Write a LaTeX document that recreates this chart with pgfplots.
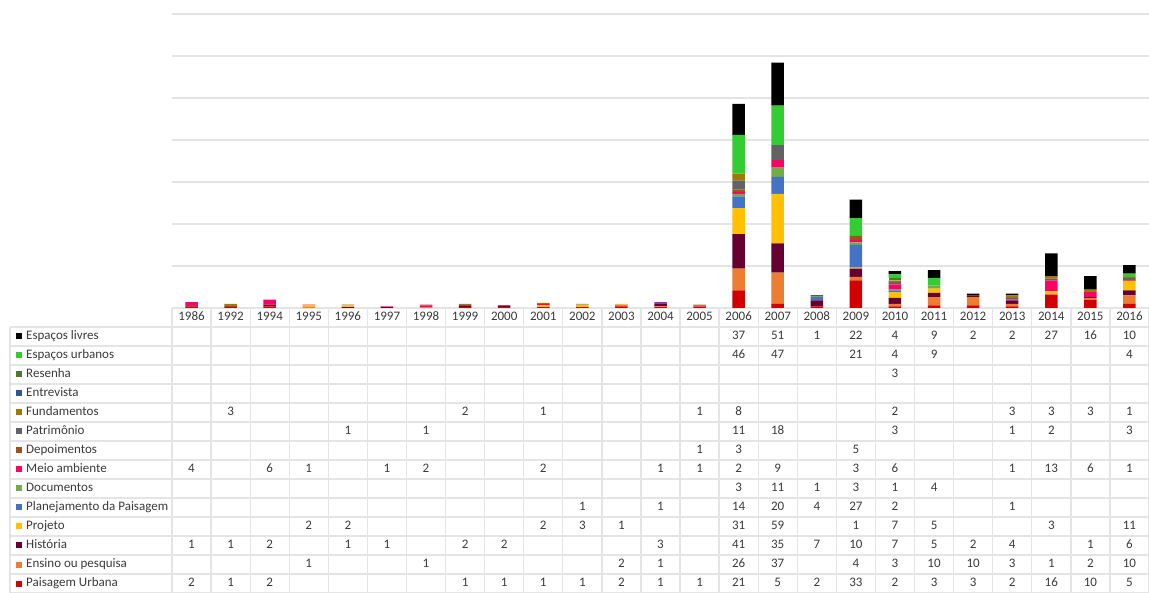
\documentclass[border=0pt]{standalone}
\usepackage{pgfplots}
\pgfplotsset{compat=1.18}
\usepackage{pgfplotstable}
\usepackage{fontspec}
\setmainfont{Carlito}

\definecolor{cEL}{HTML}{000000}
\definecolor{cEU}{HTML}{33CC33}
\definecolor{cRe}{HTML}{4E7A2E}
\definecolor{cEn}{HTML}{2F5597}
\definecolor{cFu}{HTML}{A07A00}
\definecolor{cPa}{HTML}{636363}
\definecolor{cDe}{HTML}{A0521D}
\definecolor{cMA}{HTML}{FF0066}
\definecolor{cDo}{HTML}{70AD47}
\definecolor{cPP}{HTML}{4472C4}
\definecolor{cPr}{HTML}{FFC000}
\definecolor{cHi}{HTML}{660033}
\definecolor{cEP}{HTML}{ED7D31}
\definecolor{cPU}{HTML}{D00000}
\definecolor{gridgray}{HTML}{E4E4E4}
\definecolor{txt}{HTML}{3A3A3A}
\newcommand\tablefont{\fontsize{13}{15}\selectfont}

% number of articles per year and theme (bottom series first)
\pgfplotstableread{
x  year PU EP Hi Pr PP Do MA De Pa Fu En Re EU EL
0  1986  2  0  1  0  0  0  4  0  0  0  0  0  0  0
1  1992  1  0  1  0  0  0  0  0  0  3  0  0  0  0
2  1994  2  0  2  0  0  0  6  0  0  0  0  0  0  0
3  1995  0  1  0  2  0  0  1  0  0  0  0  0  0  0
4  1996  0  0  1  2  0  0  0  0  1  0  0  0  0  0
5  1997  0  0  1  0  0  0  1  0  0  0  0  0  0  0
6  1998  0  1  0  0  0  0  2  0  1  0  0  0  0  0
7  1999  1  0  2  0  0  0  0  0  0  2  0  0  0  0
8  2000  1  0  2  0  0  0  0  0  0  0  0  0  0  0
9  2001  1  0  0  2  0  0  2  0  0  1  0  0  0  0
10 2002  1  0  0  3  1  0  0  0  0  0  0  0  0  0
11 2003  2  2  0  1  0  0  0  0  0  0  0  0  0  0
12 2004  1  1  3  0  1  0  1  0  0  0  0  0  0  0
13 2005  1  0  0  0  0  0  1  1  0  1  0  0  0  0
14 2006 21 26 41 31 14  3  2  3 11  8  0  0 46 37
15 2007  5 37 35 59 20 11  9  0 18  0  0  0 47 51
16 2008  2  0  7  0  4  1  0  0  0  0  0  0  0  1
17 2009 33  4 10  1 27  3  3  5  0  0  0  0 21 22
18 2010  2  3  7  7  2  1  6  0  3  2  0  3  4  4
19 2011  3 10  5  5  0  4  0  0  0  0  0  0  9  9
20 2012  3 10  2  0  0  0  0  0  0  0  0  0  0  2
21 2013  2  3  4  0  1  0  1  0  1  3  0  0  0  2
22 2014 16  1  0  3  0  0 13  0  2  3  0  0  0 27
23 2015 10  2  1  0  0  0  6  0  0  3  0  0  0 16
24 2016  5 10  6 11  0  0  1  0  3  1  0  0  4 10
}\data

\begin{document}
\begin{tikzpicture}
\useasboundingbox (0,0) rectangle (1149pt,592pt);

% table lines
\begin{scope}[gridgray, line width=1.3pt]
\draw (172pt,284pt) -- (1149pt,284pt);
\foreach \k in {1,...,15} \draw (10pt,{284pt-19pt*\k}) -- (1149pt,{284pt-19pt*\k});
\draw (10pt,265pt) -- (10pt,-1pt);
\foreach \j in {0,...,25} \draw ({172pt+39.08pt*\j},284pt) -- ({172pt+39.08pt*\j},-1pt);
\end{scope}

% chart
\begin{axis}[
    at={(172pt,284pt)}, anchor=south west,
    scale only axis, width=977pt, height=294pt,
    xmin=-0.5, xmax=24.5, ymin=0, ymax=350,
    ybar stacked, bar width=12.5pt,
    axis line style={draw=none},
    tick style={draw=none},
    xtick=\empty,
    ytick={50,100,...,350}, yticklabels={},
    ymajorgrids,
    grid style={gridgray, line width=1.6pt},
]
\addplot[fill=cPU, draw=none] table[x=x,y=PU]{\data};
\addplot[fill=cEP, draw=none] table[x=x,y=EP]{\data};
\addplot[fill=cHi, draw=none] table[x=x,y=Hi]{\data};
\addplot[fill=cPr, draw=none] table[x=x,y=Pr]{\data};
\addplot[fill=cPP, draw=none] table[x=x,y=PP]{\data};
\addplot[fill=cDo, draw=none] table[x=x,y=Do]{\data};
\addplot[fill=cMA, draw=none] table[x=x,y=MA]{\data};
\addplot[fill=cDe, draw=none] table[x=x,y=De]{\data};
\addplot[fill=cPa, draw=none] table[x=x,y=Pa]{\data};
\addplot[fill=cFu, draw=none] table[x=x,y=Fu]{\data};
\addplot[fill=cEn, draw=none] table[x=x,y=En]{\data};
\addplot[fill=cRe, draw=none] table[x=x,y=Re]{\data};
\addplot[fill=cEU, draw=none] table[x=x,y=EU]{\data};
\addplot[fill=cEL, draw=none] table[x=x,y=EL]{\data};
\end{axis}

% data table
\begin{axis}[
    at={(172pt,-1pt)}, anchor=south west,
    scale only axis, width=977pt, height=285pt,
    xmin=-0.5, xmax=24.5, ymin=-14.5, ymax=0.5,
    hide axis, clip=false,
    /pgf/number format/assume math mode=true,
    cell/.style={draw=none, mark=none, point meta=explicit,
      nodes near coords={\pgfmathfloatifflags{\pgfplotspointmeta}{0}{}{\pgfmathprintnumber{\pgfplotspointmeta}}},
      every node near coord/.append style={anchor=center, inner sep=0pt, font=\tablefont, text=txt, text height=1.5ex, text depth=.25ex}},
]
\addplot[draw=none, mark=none, point meta=explicit symbolic,
  nodes near coords={\pgfplotspointmeta},
  every node near coord/.append style={anchor=center, inner sep=0pt, font=\tablefont, text=txt, text height=1.5ex, text depth=.25ex}]
  table[x=x, y expr=0, meta=year]{\data};
\addplot[cell] table[x=x, y expr=-1,  meta=EL]{\data};
\addplot[cell] table[x=x, y expr=-2,  meta=EU]{\data};
\addplot[cell] table[x=x, y expr=-3,  meta=Re]{\data};
\addplot[cell] table[x=x, y expr=-4,  meta=En]{\data};
\addplot[cell] table[x=x, y expr=-5,  meta=Fu]{\data};
\addplot[cell] table[x=x, y expr=-6,  meta=Pa]{\data};
\addplot[cell] table[x=x, y expr=-7,  meta=De]{\data};
\addplot[cell] table[x=x, y expr=-8,  meta=MA]{\data};
\addplot[cell] table[x=x, y expr=-9,  meta=Do]{\data};
\addplot[cell] table[x=x, y expr=-10, meta=PP]{\data};
\addplot[cell] table[x=x, y expr=-11, meta=Pr]{\data};
\addplot[cell] table[x=x, y expr=-12, meta=Hi]{\data};
\addplot[cell] table[x=x, y expr=-13, meta=EP]{\data};
\addplot[cell] table[x=x, y expr=-14, meta=PU]{\data};
\end{axis}

% legend keys of the table
\foreach \k/\c/\t in {1/cEL/Espaços livres, 2/cEU/Espaços urbanos, 3/cRe/Resenha,
    4/cEn/Entrevista, 5/cFu/Fundamentos, 6/cPa/Patrimônio, 7/cDe/Depoimentos,
    8/cMA/Meio ambiente, 9/cDo/Documentos, 10/cPP/Planejamento da Paisagem,
    11/cPr/Projeto, 12/cHi/História, 13/cEP/Ensino ou pesquisa, 14/cPU/Paisagem Urbana} {
  \fill[\c] (15.5pt,{274.5pt-19pt*\k-3pt}) rectangle ++(6pt,6pt);
  \node[anchor=west, inner sep=0pt, font=\tablefont, text=txt, text height=1.5ex, text depth=.25ex]
    at (26pt,{274.5pt-19pt*\k}) {\t};
}
\end{tikzpicture}
\end{document}
